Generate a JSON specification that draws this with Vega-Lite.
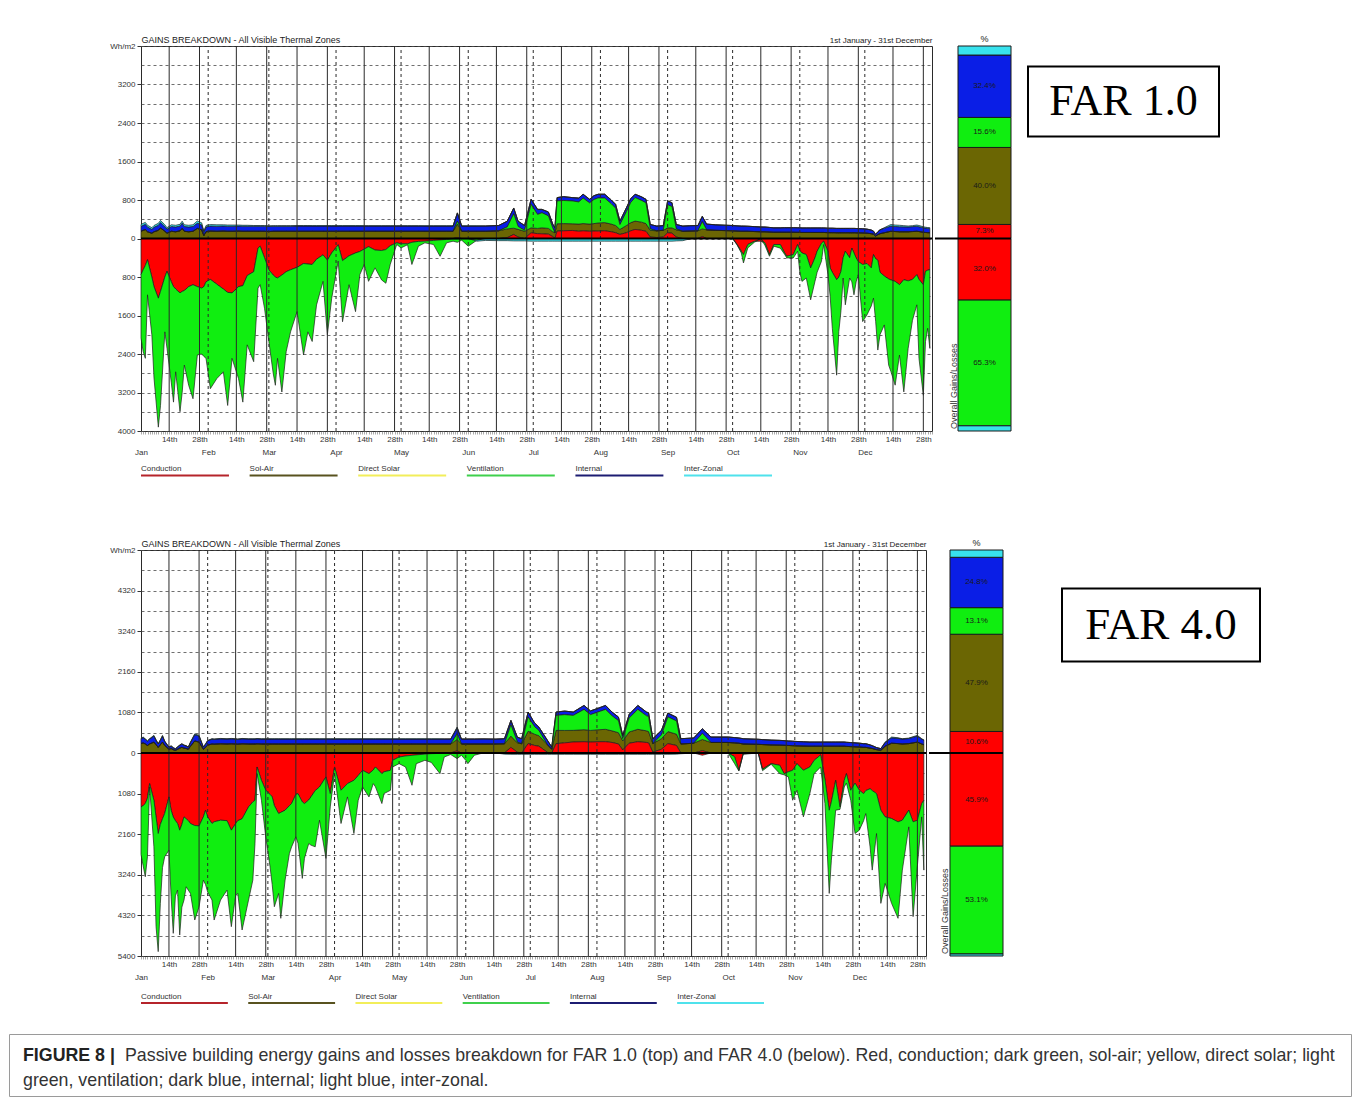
{
"$schema": "https://vega.github.io/schema/vega-lite/v6.json",
"padding": {"left": 8, "top": 34, "right": 0, "bottom": 0},
"background": "white",
"config": {
  "view": {"stroke": null},
  "font": "Liberation Sans",
  "axis": {"labelFont": "Liberation Sans", "titleFont": "Liberation Sans", "labelColor": "#333", "titleColor": "#222", "titleFontWeight": "normal"},
  "title": {"font": "Liberation Sans", "fontWeight": "normal", "color": "#222"},
  "text": {"font": "Liberation Sans"}
},
"datasets": {
  "series": [{"k":"cl","o":1},{"k":"vl","o":2},{"k":"zl","o":3},{"k":"cg","o":4},{"k":"sa","o":5},{"k":"vg","o":6},{"k":"ig","o":7},{"k":"iz","o":8}],
  "fortnight": [{"d":14},{"d":28},{"d":45},{"d":59},{"d":73},{"d":87},{"d":104},{"d":118},{"d":134},{"d":148},{"d":165},{"d":179},{"d":195},{"d":209},{"d":226},{"d":240},{"d":257},{"d":271},{"d":287},{"d":301},{"d":318},{"d":332},{"d":348},{"d":362}],
  "months": [{"d":32},{"d":60},{"d":91},{"d":121},{"d":152},{"d":182},{"d":213},{"d":244},{"d":274},{"d":305},{"d":335}],
  "legend": [{"n":"Conduction"},{"n":"Sol-Air"},{"n":"Direct Solar"},{"n":"Ventilation"},{"n":"Internal"},{"n":"Inter-Zonal"}],
  "pct1": [{"s":"cl","p":-32.0,"t":"32.0%"},{"s":"vl","p":-65.3,"t":"65.3%"},{"s":"zl","p":-2.7,"t":""},{"s":"cg","p":7.3,"t":"7.3%"},{"s":"sa","p":40.0,"t":"40.0%"},{"s":"vg","p":15.6,"t":"15.6%"},{"s":"ig","p":32.4,"t":"32.4%"},{"s":"iz","p":4.7,"t":""}],
  "pct2": [{"s":"cl","p":-45.9,"t":"45.9%"},{"s":"vl","p":-53.1,"t":"53.1%"},{"s":"zl","p":-1.0,"t":""},{"s":"cg","p":10.6,"t":"10.6%"},{"s":"sa","p":47.9,"t":"47.9%"},{"s":"vg","p":13.1,"t":"13.1%"},{"s":"ig","p":24.8,"t":"24.8%"},{"s":"iz","p":3.6,"t":""}],
  "far1": [
{"d":1,"cl":-750,"vl":-1320,"sa":150,"ig":100,"iz":40},
{"d":2,"cl":-650,"vl":-1700,"sa":170,"ig":105,"iz":40},
{"d":3,"cl":-560,"vl":-1930,"sa":185,"ig":110,"iz":40},
{"d":4,"cl":-440,"vl":-730,"sa":140,"ig":100,"iz":35},
{"d":6,"cl":-800,"vl":-1200,"sa":110,"ig":80,"iz":35},
{"d":7,"cl":-1000,"vl":-1900,"sa":140,"ig":95,"iz":35},
{"d":9,"cl":-1240,"vl":-2680,"sa":170,"ig":105,"iz":40},
{"d":10,"cl":-1100,"vl":-2370,"sa":220,"ig":115,"iz":40},
{"d":12,"cl":-800,"vl":-1140,"sa":150,"ig":100,"iz":35},
{"d":13,"cl":-680,"vl":-1600,"sa":110,"ig":85,"iz":30},
{"d":15,"cl":-900,"vl":-2100,"sa":150,"ig":100,"iz":35},
{"d":16,"cl":-1000,"vl":-2400,"sa":145,"ig":100,"iz":35},
{"d":17,"cl":-1050,"vl":-1720,"sa":140,"ig":100,"iz":35},
{"d":19,"cl":-1130,"vl":-2470,"sa":160,"ig":100,"iz":35},
{"d":20,"cl":-1100,"vl":-2100,"sa":210,"ig":110,"iz":40},
{"d":21,"cl":-1080,"vl":-1550,"sa":150,"ig":100,"iz":35},
{"d":23,"cl":-1000,"vl":-2050,"sa":140,"ig":100,"iz":35},
{"d":25,"cl":-960,"vl":-2370,"sa":150,"ig":100,"iz":35},
{"d":27,"cl":-1000,"vl":-1420,"sa":210,"ig":110,"iz":45},
{"d":29,"cl":-1030,"vl":-1370,"sa":180,"ig":105,"iz":40},
{"d":30,"cl":-1000,"vl":-1450,"sa":60,"ig":70,"iz":25},
{"d":31,"cl":-900,"vl":-1590,"sa":140,"ig":100,"iz":30},
{"d":33,"cl":-850,"vl":-2270,"sa":155,"ig":105,"iz":30},
{"d":36,"cl":-950,"vl":-1960,"sa":150,"ig":105,"iz":30},
{"d":39,"cl":-1050,"vl":-1720,"sa":155,"ig":105,"iz":25},
{"d":41,"cl":-1120,"vl":-2350,"sa":150,"ig":105,"iz":25},
{"d":43,"cl":-1130,"vl":-1360,"sa":150,"ig":105,"iz":25},
{"d":46,"cl":-1000,"vl":-1910,"sa":155,"ig":105,"iz":20},
{"d":48,"cl":-980,"vl":-2420,"sa":150,"ig":105,"iz":20},
{"d":50,"cl":-770,"vl":-1440,"sa":150,"ig":105,"iz":20},
{"d":53,"cl":-690,"vl":-1870,"sa":150,"ig":105,"iz":15},
{"d":55,"cl":-200,"vl":-830,"sa":150,"ig":105,"iz":15},
{"d":56,"cl":-160,"vl":-800,"sa":150,"ig":105,"iz":15},
{"d":58,"cl":-400,"vl":-1050,"sa":150,"ig":105,"iz":15},
{"d":60,"cl":-650,"vl":-1490,"sa":145,"ig":105,"iz":15},
{"d":62,"cl":-760,"vl":-2040,"sa":150,"ig":105,"iz":12},
{"d":63,"cl":-800,"vl":-2250,"sa":150,"ig":105,"iz":12},
{"d":64,"cl":-820,"vl":-1670,"sa":150,"ig":105,"iz":12},
{"d":66,"cl":-760,"vl":-2430,"sa":150,"ig":105,"iz":12},
{"d":68,"cl":-690,"vl":-1660,"sa":150,"ig":105,"iz":12},
{"d":70,"cl":-650,"vl":-1290,"sa":150,"ig":105,"iz":12},
{"d":73,"cl":-600,"vl":-920,"sa":150,"ig":108,"iz":12},
{"d":76,"cl":-520,"vl":-1900,"sa":150,"ig":108,"iz":12},
{"d":78,"cl":-530,"vl":-1410,"sa":150,"ig":108,"iz":12},
{"d":80,"cl":-540,"vl":-1600,"sa":150,"ig":108,"iz":10},
{"d":82,"cl":-430,"vl":-950,"sa":150,"ig":108,"iz":10},
{"d":85,"cl":-340,"vl":-550,"sa":150,"ig":108,"iz":10},
{"d":87,"cl":-450,"vl":-1550,"sa":150,"ig":108,"iz":10},
{"d":89,"cl":-300,"vl":-940,"sa":150,"ig":108,"iz":10},
{"d":92,"cl":-130,"vl":-340,"sa":150,"ig":108,"iz":10},
{"d":94,"cl":-460,"vl":-1270,"sa":150,"ig":108,"iz":10},
{"d":97,"cl":-360,"vl":-600,"sa":150,"ig":108,"iz":10},
{"d":100,"cl":-300,"vl":-1220,"sa":150,"ig":108,"iz":10},
{"d":102,"cl":-270,"vl":-480,"sa":150,"ig":108,"iz":10},
{"d":104,"cl":-220,"vl":-320,"sa":150,"ig":108,"iz":8},
{"d":106,"cl":-170,"vl":-720,"sa":150,"ig":108,"iz":8},
{"d":109,"cl":-240,"vl":-370,"sa":150,"ig":108,"iz":8},
{"d":112,"cl":-250,"vl":-610,"sa":150,"ig":108,"iz":8},
{"d":114,"cl":-230,"vl":-700,"sa":150,"ig":108,"iz":8},
{"d":116,"cl":-150,"vl":-390,"sa":150,"ig":108,"iz":8},
{"d":119,"cl":-90,"vl":-35,"sa":150,"ig":108,"iz":8},
{"d":121,"cl":-110,"vl":-85,"sa":150,"ig":108,"iz":8},
{"d":124,"cl":-110,"vl":-20,"sa":150,"ig":108,"iz":8},
{"d":126,"cl":-80,"vl":-460,"sa":150,"ig":108,"iz":8},
{"d":129,"cl":-60,"vl":-100,"sa":150,"ig":108,"iz":8},
{"d":132,"cl":-55,"vl":-35,"sa":150,"ig":108,"iz":6},
{"d":136,"cl":-40,"vl":-85,"sa":150,"ig":108,"iz":6},
{"d":139,"cl":-30,"vl":-340,"sa":150,"ig":108,"iz":6},
{"d":142,"cl":-20,"vl":-70,"sa":150,"ig":108,"iz":6},
{"d":145,"cl":-10,"vl":-46,"sa":150,"ig":108,"iz":6},
{"d":147,"cl":-10,"vl":-70,"cg":20,"sa":280,"vg":60,"ig":170,"iz":5},
{"d":149,"cl":-5,"vl":-30,"sa":150,"ig":108,"iz":5},
{"d":152,"cl":-5,"vl":-155,"sa":150,"ig":108,"iz":5},
{"d":156,"vl":-36,"zl":-20,"sa":150,"ig":108,"iz":5},
{"d":160,"zl":-40,"sa":150,"ig":110},
{"d":166,"zl":-45,"sa":160,"ig":110},
{"d":170,"zl":-45,"cg":20,"sa":180,"vg":40,"ig":120},
{"d":173,"zl":-50,"cg":84,"sa":130,"vg":300,"ig":120},
{"d":175,"zl":-50,"cg":30,"sa":160,"vg":60,"ig":110},
{"d":178,"zl":-50,"sa":150,"vg":20,"ig":100},
{"d":181,"zl":-55,"cg":118,"sa":104,"vg":488,"ig":105},
{"d":184,"zl":-55,"cg":100,"sa":110,"vg":290,"ig":105},
{"d":186,"zl":-55,"cg":97,"sa":125,"vg":313,"ig":70},
{"d":189,"zl":-55,"cg":90,"sa":120,"vg":260,"ig":80},
{"d":191,"zl":-55,"cg":40,"sa":100,"vg":80,"ig":80},
{"d":192,"zl":-55,"sa":118,"ig":104},
{"d":193,"zl":-55,"cg":153,"sa":153,"vg":474,"ig":70},
{"d":196,"zl":-55,"cg":160,"sa":150,"vg":480,"ig":80},
{"d":200,"zl":-55,"cg":167,"sa":139,"vg":474,"ig":70},
{"d":203,"zl":-55,"cg":150,"sa":150,"vg":460,"ig":80},
{"d":205,"zl":-55,"cg":160,"sa":150,"vg":530,"ig":80},
{"d":208,"zl":-55,"cg":150,"sa":150,"vg":440,"ig":75},
{"d":210,"zl":-55,"cg":155,"sa":155,"vg":500,"ig":80},
{"d":212,"zl":-55,"cg":153,"sa":170,"vg":520,"ig":77},
{"d":215,"zl":-55,"cg":160,"sa":170,"vg":510,"ig":80},
{"d":218,"zl":-55,"cg":140,"sa":160,"vg":420,"ig":80},
{"d":220,"zl":-55,"cg":120,"sa":150,"vg":360,"ig":80},
{"d":222,"zl":-55,"cg":84,"sa":104,"vg":100,"ig":74},
{"d":225,"zl":-55,"cg":120,"sa":150,"vg":290,"ig":80},
{"d":227,"zl":-55,"cg":160,"sa":170,"vg":420,"ig":80},
{"d":229,"zl":-55,"cg":188,"sa":174,"vg":488,"ig":70},
{"d":232,"zl":-55,"cg":170,"sa":170,"vg":450,"ig":75},
{"d":234,"zl":-55,"cg":150,"sa":160,"vg":430,"ig":75},
{"d":236,"zl":-55,"cg":30,"sa":140,"vg":30,"ig":92},
{"d":239,"zl":-55,"cg":20,"sa":140,"ig":98},
{"d":242,"zl":-55,"cg":30,"sa":140,"ig":98},
{"d":244,"zl":-55,"cg":118,"sa":104,"vg":478,"ig":80},
{"d":246,"zl":-55,"cg":110,"sa":110,"vg":445,"ig":80},
{"d":248,"zl":-50,"cg":30,"sa":150,"vg":20,"ig":92},
{"d":251,"zl":-45,"sa":150,"ig":108},
{"d":254,"zl":-10,"sa":155,"ig":110},
{"d":258,"sa":160,"ig":110},
{"d":260,"cg":40,"sa":160,"vg":150,"ig":110},
{"d":262,"sa":180,"ig":120},
{"d":266,"sa":170,"ig":115},
{"d":270,"sa":165,"ig":112},
{"d":274,"sa":160,"ig":110},
{"d":276,"cl":-120,"vl":-10,"sa":155,"ig":108},
{"d":278,"cl":-264,"vl":-36,"sa":150,"ig":108},
{"d":279,"cl":-334,"vl":-174,"sa":150,"ig":108},
{"d":281,"cl":-125,"vl":-70,"sa":150,"ig":105},
{"d":284,"cl":-60,"vl":-20,"sa":145,"ig":102},
{"d":287,"cl":-56,"sa":140,"ig":100},
{"d":289,"cl":-100,"vl":-50,"sa":140,"ig":98},
{"d":291,"cl":-334,"vl":-35,"sa":135,"ig":95},
{"d":293,"cl":-125,"vl":-35,"sa":130,"ig":92},
{"d":296,"cl":-125,"vl":-75,"sa":130,"ig":92},
{"d":298,"cl":-300,"vl":-30,"sa":130,"ig":95},
{"d":299,"cl":-369,"vl":-35,"sa":130,"ig":95},
{"d":302,"cl":-334,"vl":-70,"sa":130,"ig":95},
{"d":304,"cl":-125,"vl":-139,"sa":128,"ig":95},
{"d":305,"cl":-250,"vl":-450,"sa":128,"ig":95},
{"d":306,"cl":-300,"vl":-591,"sa":125,"ig":95},
{"d":308,"cl":-334,"vl":-487,"sa":125,"ig":95},
{"d":310,"cl":-612,"vl":-662,"sa":125,"ig":95},
{"d":312,"cl":-400,"vl":-491,"sa":125,"ig":95},
{"d":313,"cl":-264,"vl":-436,"sa":125,"ig":95},
{"d":315,"cl":-100,"vl":-373,"sa":125,"ig":95},
{"d":316,"cl":-56,"vl":-69,"sa":125,"ig":95},
{"d":318,"cl":-264,"vl":-488,"sa":122,"ig":92},
{"d":319,"cl":-612,"vl":-588,"sa":122,"ig":92},
{"d":320,"cl":-700,"vl":-1165,"sa":122,"ig":92},
{"d":322,"cl":-856,"vl":-1984,"sa":120,"ig":90},
{"d":323,"cl":-800,"vl":-1135,"sa":120,"ig":90},
{"d":324,"cl":-682,"vl":-818,"sa":120,"ig":90},
{"d":325,"cl":-400,"vl":-421,"sa":120,"ig":90},
{"d":326,"cl":-264,"vl":-1114,"sa":120,"ig":90},
{"d":328,"cl":-400,"vl":-421,"sa":120,"ig":90},
{"d":329,"cl":-200,"vl":-700,"sa":120,"ig":90},
{"d":330,"cl":-300,"vl":-870,"sa":120,"ig":90},
{"d":331,"cl":-404,"vl":-496,"sa":118,"ig":90},
{"d":332,"cl":-480,"vl":-272,"sa":118,"ig":88},
{"d":334,"cl":-540,"vl":-1186,"sa":115,"ig":88},
{"d":336,"cl":-520,"vl":-1067,"sa":110,"ig":85},
{"d":338,"cl":-612,"vl":-788,"sa":100,"ig":75},
{"d":339,"cl":-334,"vl":-905,"sa":90,"ig":63},
{"d":340,"cl":-420,"vl":-1300,"sa":50,"ig":34},
{"d":341,"cl":-450,"vl":-1868,"sa":80,"ig":60},
{"d":342,"cl":-700,"vl":-1300,"sa":100,"ig":80},
{"d":344,"cl":-780,"vl":-1016,"sa":120,"ig":95,"iz":10},
{"d":346,"cl":-840,"vl":-1791,"sa":140,"ig":105,"iz":25},
{"d":347,"cl":-860,"vl":-1900,"sa":150,"ig":110,"iz":30},
{"d":349,"cl":-891,"vl":-2157,"sa":145,"ig":105,"iz":30},
{"d":351,"cl":-960,"vl":-1462,"sa":140,"ig":105,"iz":30},
{"d":353,"cl":-856,"vl":-2332,"sa":140,"ig":102,"iz":25},
{"d":355,"cl":-880,"vl":-1403,"sa":140,"ig":100,"iz":20},
{"d":357,"cl":-850,"vl":-850,"sa":145,"ig":102,"iz":20},
{"d":359,"cl":-752,"vl":-626,"sa":150,"ig":105,"iz":25},
{"d":360,"cl":-850,"vl":-1642,"sa":145,"ig":100,"iz":25},
{"d":362,"cl":-960,"vl":-2297,"sa":130,"ig":95,"iz":20},
{"d":363,"cl":-682,"vl":-1462,"sa":125,"ig":92,"iz":18},
{"d":364,"cl":-660,"vl":-1205,"sa":122,"ig":90,"iz":15},
{"d":365,"cl":-647,"vl":-1636,"sa":120,"ig":90,"iz":15}
  ],
  "far2": [
{"d":1,"cl":-1434,"vl":-1266,"sa":250,"ig":130,"iz":10},
{"d":2,"cl":-1400,"vl":-1600,"sa":270,"ig":140,"iz":15},
{"d":3,"cl":-1345,"vl":-1947,"sa":240,"ig":125,"iz":12},
{"d":4,"cl":-1200,"vl":-1562,"sa":200,"ig":115,"iz":10},
{"d":5,"cl":-814,"vl":-89,"sa":240,"ig":130,"iz":10},
{"d":7,"cl":-1257,"vl":-1239,"sa":290,"ig":160,"iz":20},
{"d":8,"cl":-1700,"vl":-2920,"sa":220,"ig":120,"iz":10},
{"d":9,"cl":-2142,"vl":-3142,"sa":150,"ig":90,"iz":8},
{"d":10,"cl":-1900,"vl":-2100,"sa":220,"ig":120,"iz":10},
{"d":11,"cl":-1750,"vl":-1300,"sa":290,"ig":160,"iz":20},
{"d":12,"cl":-1611,"vl":-1151,"sa":200,"ig":110,"iz":10},
{"d":14,"cl":-1168,"vl":-1417,"sa":100,"ig":55,"iz":5},
{"d":15,"cl":-1522,"vl":-2301,"sa":120,"ig":65,"iz":5},
{"d":16,"cl":-1700,"vl":-3097,"sa":90,"ig":50,"iz":5},
{"d":17,"cl":-1800,"vl":-2000,"sa":70,"ig":40,"iz":5},
{"d":18,"cl":-1876,"vl":-1770,"sa":100,"ig":60,"iz":5},
{"d":19,"cl":-2053,"vl":-2788,"sa":130,"ig":75,"iz":8},
{"d":20,"cl":-1900,"vl":-2200,"sa":150,"ig":90,"iz":8},
{"d":21,"cl":-1699,"vl":-2213,"sa":130,"ig":75,"iz":8},
{"d":22,"cl":-1750,"vl":-1808,"sa":120,"ig":70,"iz":5},
{"d":23,"cl":-1800,"vl":-1850,"sa":100,"ig":55,"iz":5},
{"d":24,"cl":-1876,"vl":-1859,"sa":180,"ig":100,"iz":10},
{"d":26,"cl":-1930,"vl":-2513,"sa":320,"ig":170,"iz":20},
{"d":28,"cl":-1940,"vl":-2149,"sa":290,"ig":160,"iz":20},
{"d":30,"cl":-1700,"vl":-1681,"sa":100,"ig":55,"iz":5},
{"d":31,"cl":-1522,"vl":-1978,"sa":150,"ig":85,"iz":8},
{"d":32,"cl":-1700,"vl":-2000,"sa":210,"ig":115,"iz":10},
{"d":34,"cl":-1876,"vl":-2036,"sa":240,"ig":130,"iz":10},
{"d":35,"cl":-1830,"vl":-2613,"sa":235,"ig":128,"iz":10},
{"d":38,"cl":-1788,"vl":-2124,"sa":245,"ig":132,"iz":10},
{"d":41,"cl":-1800,"vl":-1846,"sa":240,"ig":130,"iz":10},
{"d":43,"cl":-2053,"vl":-2567,"sa":245,"ig":132,"iz":10},
{"d":45,"cl":-1876,"vl":-1924,"sa":240,"ig":130,"iz":10},
{"d":46,"cl":-1800,"vl":-1935,"sa":235,"ig":128,"iz":10},
{"d":48,"cl":-1750,"vl":-2958,"sa":245,"ig":132,"iz":10},
{"d":51,"cl":-1434,"vl":-2478,"sa":240,"ig":130,"iz":8},
{"d":53,"cl":-1300,"vl":-2081,"sa":240,"ig":130,"iz":8},
{"d":54,"cl":-1257,"vl":-1150,"sa":240,"ig":130,"iz":8},
{"d":55,"cl":-372,"vl":-177,"sa":245,"ig":132,"iz":8},
{"d":57,"cl":-726,"vl":-531,"sa":240,"ig":130,"iz":8},
{"d":59,"cl":-991,"vl":-1239,"sa":240,"ig":130,"iz":8},
{"d":61,"cl":-1100,"vl":-1927,"sa":240,"ig":130,"iz":8},
{"d":62,"cl":-1168,"vl":-2332,"sa":240,"ig":130,"iz":8},
{"d":63,"cl":-1400,"vl":-2689,"sa":240,"ig":130,"iz":8},
{"d":65,"cl":-1611,"vl":-2124,"sa":240,"ig":130,"iz":8},
{"d":66,"cl":-1580,"vl":-2818,"sa":240,"ig":130,"iz":8},
{"d":68,"cl":-1522,"vl":-1859,"sa":240,"ig":130,"iz":8},
{"d":70,"cl":-1400,"vl":-1273,"sa":240,"ig":130,"iz":8},
{"d":71,"cl":-1345,"vl":-1155,"sa":240,"ig":130,"iz":8},
{"d":73,"cl":-1100,"vl":-1130,"sa":240,"ig":130,"iz":8},
{"d":74,"cl":-1080,"vl":-1320,"sa":240,"ig":130,"iz":8},
{"d":76,"cl":-1300,"vl":-2036,"sa":240,"ig":130,"iz":8},
{"d":77,"cl":-1345,"vl":-1455,"sa":240,"ig":130,"iz":8},
{"d":79,"cl":-1250,"vl":-1157,"sa":240,"ig":130,"iz":8},
{"d":80,"cl":-1168,"vl":-1282,"sa":240,"ig":130,"iz":8},
{"d":82,"cl":-1000,"vl":-1496,"sa":240,"ig":130,"iz":8},
{"d":84,"cl":-903,"vl":-885,"sa":240,"ig":130,"iz":8},
{"d":87,"cl":-637,"vl":-2168,"sa":240,"ig":130,"iz":8},
{"d":89,"cl":-1080,"vl":-354,"sa":240,"ig":130,"iz":8},
{"d":91,"cl":-372,"vl":-177,"sa":240,"ig":130,"iz":8},
{"d":94,"cl":-991,"vl":-885,"sa":240,"ig":130,"iz":8},
{"d":97,"cl":-814,"vl":-354,"sa":240,"ig":130,"iz":8},
{"d":100,"cl":-726,"vl":-1416,"sa":240,"ig":130,"iz":8},
{"d":102,"cl":-600,"vl":-657,"sa":240,"ig":130,"iz":8},
{"d":104,"cl":-460,"vl":-443,"sa":240,"ig":130,"iz":8},
{"d":107,"cl":-549,"vl":-619,"sa":240,"ig":130,"iz":8},
{"d":109,"cl":-450,"vl":-364,"sa":240,"ig":130,"iz":8},
{"d":110,"cl":-372,"vl":-528,"sa":240,"ig":130,"iz":8},
{"d":113,"cl":-549,"vl":-796,"sa":240,"ig":130,"iz":8},
{"d":114,"cl":-500,"vl":-580,"sa":240,"ig":130,"iz":8},
{"d":117,"cl":-460,"vl":-531,"sa":240,"ig":130,"iz":6},
{"d":118,"cl":-195,"vl":-177,"sa":240,"ig":130,"iz":6},
{"d":121,"cl":-106,"vl":-177,"sa":240,"ig":130,"iz":6},
{"d":124,"cl":-80,"vl":-292,"sa":240,"ig":130,"iz":6},
{"d":127,"cl":-62,"vl":-797,"sa":240,"ig":130,"iz":6},
{"d":129,"cl":-50,"vl":-233,"sa":240,"ig":130,"iz":6},
{"d":133,"cl":-30,"vl":-165,"sa":240,"ig":130,"iz":6},
{"d":136,"cl":-18,"vl":-232,"sa":240,"ig":130,"iz":6},
{"d":140,"cl":-10,"vl":-539,"sa":240,"ig":130,"iz":6},
{"d":142,"cl":-5,"vl":-101,"sa":240,"ig":130,"iz":5},
{"d":145,"vl":-40,"sa":240,"ig":130,"iz":5},
{"d":148,"vl":-150,"cg":60,"sa":300,"vg":150,"ig":160,"iz":20},
{"d":150,"vl":-60,"sa":240,"ig":130,"iz":5},
{"d":152,"vl":-195,"sa":240,"ig":130,"iz":5},
{"d":153,"vl":-283,"sa":240,"ig":130,"iz":5},
{"d":156,"vl":-60,"sa":240,"ig":130,"iz":5},
{"d":160,"sa":240,"ig":135},
{"d":166,"sa":240,"ig":130},
{"d":170,"zl":-30,"sa":245,"ig":135},
{"d":173,"zl":-35,"cg":150,"sa":300,"vg":300,"ig":117},
{"d":176,"zl":-35,"cg":20,"sa":250,"vg":20,"ig":130},
{"d":178,"zl":-35,"sa":245,"ig":135},
{"d":181,"zl":-35,"cg":250,"sa":330,"vg":380,"ig":130},
{"d":184,"zl":-35,"cg":200,"sa":300,"vg":200,"ig":100},
{"d":186,"zl":-35,"cg":180,"sa":280,"vg":140,"ig":90},
{"d":190,"zl":-35,"cg":16,"sa":200,"ig":120},
{"d":192,"zl":-35,"sa":100,"ig":59},
{"d":194,"zl":-35,"cg":248,"sa":354,"vg":398,"ig":89},
{"d":198,"zl":-35,"cg":270,"sa":330,"vg":420,"ig":95},
{"d":202,"zl":-35,"cg":292,"sa":310,"vg":398,"ig":89},
{"d":207,"zl":-35,"cg":300,"sa":320,"vg":540,"ig":105},
{"d":210,"zl":-35,"cg":290,"sa":310,"vg":420,"ig":100},
{"d":214,"zl":-35,"cg":300,"sa":320,"vg":480,"ig":100},
{"d":217,"zl":-35,"cg":300,"sa":330,"vg":530,"ig":105},
{"d":220,"zl":-35,"cg":280,"sa":310,"vg":400,"ig":100},
{"d":223,"zl":-35,"cg":240,"sa":300,"vg":320,"ig":96},
{"d":225,"zl":-35,"cg":80,"sa":240,"vg":60,"ig":89},
{"d":228,"zl":-35,"cg":260,"sa":300,"vg":370,"ig":100},
{"d":232,"zl":-35,"cg":300,"sa":330,"vg":530,"ig":105},
{"d":236,"zl":-35,"cg":280,"sa":310,"vg":400,"ig":100},
{"d":237,"zl":-35,"cg":270,"sa":300,"vg":400,"ig":100},
{"d":239,"zl":-35,"cg":20,"sa":230,"ig":130},
{"d":243,"zl":-35,"cg":100,"sa":280,"vg":100,"ig":122},
{"d":246,"zl":-35,"cg":250,"sa":320,"vg":390,"ig":102},
{"d":250,"zl":-30,"cg":200,"sa":300,"vg":350,"ig":100},
{"d":252,"zl":-20,"sa":240,"ig":140},
{"d":258,"sa":260,"ig":140},
{"d":262,"cl":-60,"cg":60,"sa":300,"vg":160,"ig":126},
{"d":266,"sa":280,"ig":145},
{"d":274,"sa":280,"ig":145},
{"d":277,"cl":-100,"vl":-183,"sa":270,"ig":140},
{"d":279,"cl":-460,"vl":-20,"sa":260,"ig":140},
{"d":281,"cl":-20,"vl":-10,"sa":240,"ig":140},
{"d":288,"cl":-10,"sa":230,"ig":135},
{"d":290,"cl":-430,"vl":-40,"sa":225,"ig":132},
{"d":294,"cl":-283,"vl":-17,"sa":215,"ig":128},
{"d":298,"cl":-327,"vl":-222,"sa":210,"ig":126},
{"d":300,"cl":-549,"vl":-31,"sa":205,"ig":124},
{"d":302,"cl":-500,"vl":-137,"sa":200,"ig":120},
{"d":304,"cl":-460,"vl":-797,"sa":195,"ig":118},
{"d":306,"cl":-283,"vl":-708,"sa":190,"ig":116},
{"d":309,"cl":-460,"vl":-1239,"sa":185,"ig":114},
{"d":312,"cl":-372,"vl":-708,"sa":180,"ig":112},
{"d":314,"cl":-195,"vl":-354,"sa":180,"ig":112},
{"d":317,"cl":-50,"vl":-322,"sa":180,"ig":112},
{"d":319,"cl":-700,"vl":-645,"sa":180,"ig":112},
{"d":321,"cl":-1522,"vl":-2213,"sa":180,"ig":112},
{"d":322,"cl":-1300,"vl":-1550,"sa":180,"ig":112},
{"d":324,"cl":-726,"vl":-796,"sa":180,"ig":112},
{"d":326,"cl":-1434,"vl":-66,"sa":180,"ig":112},
{"d":328,"cl":-726,"vl":-177,"sa":180,"ig":112},
{"d":329,"cl":-549,"vl":-251,"sa":175,"ig":110},
{"d":331,"cl":-991,"vl":-266,"sa":170,"ig":108},
{"d":333,"cl":-800,"vl":-1342,"sa":165,"ig":105},
{"d":335,"cl":-991,"vl":-1062,"sa":160,"ig":102},
{"d":337,"cl":-1080,"vl":-720,"sa":150,"ig":98},
{"d":338,"cl":-1000,"vl":-611,"sa":150,"ig":98},
{"d":340,"cl":-950,"vl":-1550,"sa":130,"ig":85},
{"d":341,"cl":-1000,"vl":-2115,"sa":120,"ig":75},
{"d":343,"cl":-1080,"vl":-1062,"sa":90,"ig":55},
{"d":345,"cl":-1522,"vl":-2478,"sa":70,"ig":45},
{"d":347,"cl":-1699,"vl":-1770,"sa":180,"ig":100,"iz":10},
{"d":350,"cl":-1743,"vl":-2257,"sa":260,"ig":145,"iz":20},
{"d":353,"cl":-1832,"vl":-2566,"sa":250,"ig":140,"iz":15},
{"d":355,"cl":-1788,"vl":-1327,"sa":240,"ig":130,"iz":10},
{"d":358,"cl":-1522,"vl":-443,"sa":250,"ig":135,"iz":12},
{"d":360,"cl":-1832,"vl":-2522,"sa":270,"ig":150,"iz":15},
{"d":362,"cl":-1788,"vl":-1212,"sa":290,"ig":160,"iz":19},
{"d":364,"cl":-1345,"vl":-355,"sa":240,"ig":130,"iz":10},
{"d":365,"cl":-1257,"vl":-1858,"sa":220,"ig":120,"iz":10}
  ]
},
"vconcat": [
 {
  "hconcat": [
   {"width": 100, "height": 1, "data": {"values": [{}]}, "mark": {"type": "text"}, "encoding": {"text": {"value": ""}}},
   {
    "vconcat": [
     {
      "hconcat": [
       {
        "vconcat": [
         {
          "width": 791, "height": 385,
          "view": {"stroke": "#2a2a2a", "strokeWidth": 1},
          "resolve": {"axis": {"x": "independent", "y": "independent"}},
          "layer": [
           {
            "data": {"name": "far1"},
            "transform": [
              {"fold": ["cl","vl","zl","cg","sa","vg","ig","iz"], "as": ["k","v"]},
              {"filter": {"field": "v", "valid": true}},
              {"lookup": "k", "from": {"data": {"name": "series"}, "key": "k", "fields": ["o"]}}
            ],
            "mark": {"type": "area", "stroke": "#1e1e1e", "strokeWidth": 0.7},
            "encoding": {
              "x": {"field": "d", "type": "quantitative", "scale": {"domain": [1,366], "nice": false, "zero": false},
                    "axis": {"orient": "bottom", "tickCount": 365, "labelOverlap": false, "labelFlush": false, "labelBound": false, "grid": false, "domain": false, "tickSize": 3, "tickColor": "#555", "tickWidth": 0.5, "labelFontSize": 8, "labelPadding": 1, "labelLineHeight": 13, "labelBaseline": "top", "labelAngle": 0, "title": null,
                             "labelExpr": "indexof([14,45,73,104,134,165,195,226,257,287,318,348], datum.value) >= 0 ? '14th' : indexof([28,59,87,118,148,179,209,240,271,301,332,362], datum.value) >= 0 ? '28th' : indexof([1,32,60,91,121,152,182,213,244,274,305,335], datum.value) >= 0 ? ['', ['Jan','Feb','Mar','Apr','May','Jun','Jul','Aug','Sep','Oct','Nov','Dec'][indexof([1,32,60,91,121,152,182,213,244,274,305,335], datum.value)]] : ''"}},
              "y": {"field": "v", "type": "quantitative", "stack": "zero", "scale": {"domain": [-4000,4000], "nice": false, "zero": false},
                    "axis": {"orient": "left", "values": [-4000,-3600,-3200,-2800,-2400,-2000,-1600,-1200,-800,-400,0,400,800,1200,1600,2000,2400,2800,3200,3600,4000],
                             "labelExpr": "datum.value >= 4000 ? 'Wh/m2' : (datum.value % 800 == 0 ? format(abs(datum.value), 'd') : '')",
                             "grid": true, "gridDash": [3,3], "gridColor": "#4a4a4a", "gridWidth": 0.8, "domain": false, "tickSize": 4, "tickColor": "#333",
                             "tickOpacity": {"condition": {"test": "datum.value % 800 == 0", "value": 1}, "value": 0},
                             "labelFontSize": 8, "labelPadding": 2, "title": null}},
              "color": {"field": "k", "type": "nominal", "scale": {"domain": ["cl","vl","zl","cg","sa","vg","ig","iz"], "range": ["#ff0000","#10ee10","#38e2ee","#ff0000","#6b6603","#10ee10","#0a1ee6","#38e2ee"]}, "legend": null},
              "detail": {"field": "o", "type": "quantitative"},
              "order": {"field": "o", "type": "quantitative"}
            }
           },
           {
            "data": {"name": "fortnight"},
            "mark": {"type": "rule", "color": "#2a2a2a", "strokeWidth": 1},
            "encoding": {"x": {"field": "d", "type": "quantitative", "scale": {"domain": [1,366], "nice": false, "zero": false},
                         "axis": {"orient": "top", "title": "GAINS BREAKDOWN - All Visible Thermal Zones", "titleAnchor": "start", "titleAlign": "left", "titleBaseline": "bottom", "titleFontSize": 9, "titlePadding": 2, "labels": false, "ticks": false, "domain": false, "grid": false}},
                         "y": {"datum": -4000, "type": "quantitative", "axis": null}, "y2": {"datum": 4000}}
           },
           {
            "data": {"name": "months"},
            "mark": {"type": "rule", "color": "#2a2a2a", "strokeWidth": 1, "strokeDash": [3,3]},
            "encoding": {"x": {"field": "d", "type": "quantitative", "scale": {"domain": [1,366], "nice": false, "zero": false},
                         "axis": {"orient": "top", "title": "1st January - 31st December", "titleAnchor": "end", "titleAlign": "right", "titleBaseline": "bottom", "titleFontSize": 8, "titlePadding": 2, "labels": false, "ticks": false, "domain": false, "grid": false}},
                         "y": {"datum": -4000, "type": "quantitative", "axis": null}, "y2": {"datum": 4000}}
           },
           {
            "data": {"values": [{}]},
            "mark": {"type": "rule", "color": "black", "strokeWidth": 2},
            "encoding": {"y": {"datum": 0, "type": "quantitative", "axis": null}}
           }
          ]
         },
         {
          "width": 631, "height": 2,
          "data": {"name": "legend"},
          "mark": {"type": "bar"},
          "encoding": {
            "x": {"field": "n", "type": "nominal", "sort": null, "scale": {"paddingInner": 0.19, "paddingOuter": 0},
                  "axis": {"orient": "top", "title": null, "labelAlign": "left", "labelOffset": -44, "labelAngle": 0, "labelBaseline": "bottom", "ticks": false, "tickSize": 0, "domain": false, "labelPadding": 2, "labelFontSize": 8, "labelColor": "#333"}},
            "color": {"field": "n", "type": "nominal", "sort": null, "scale": {"domain": ["Conduction","Sol-Air","Direct Solar","Ventilation","Internal","Inter-Zonal"], "range": ["#b5242b","#58521f","#f2ee5a","#3fd04c","#1c1c72","#4fe2ec"]}, "legend": null}
          }
         }
        ],
        "spacing": 43.5,
        "bounds": "flush",
        "resolve": {"scale": {"color": "independent"}}
       },
       {
        "hconcat": [
         {
          "width": 76, "height": 385,
          "title": {"text": "%", "fontSize": 9, "offset": 2, "anchor": "middle", "dx": 11.5},
          "layer": [
           {
            "data": {"name": "pct1"},
            "transform": [{"lookup": "s", "from": {"data": {"name": "series"}, "key": "k", "fields": ["o"]}}],
            "mark": {"type": "bar", "stroke": "#1a1a1a", "strokeWidth": 1},
            "encoding": {
              "x": {"datum": "%", "type": "nominal", "scale": {"type": "band", "paddingInner": 0, "paddingOuter": 0.217, "align": 1}, "axis": null},
              "y": {"field": "p", "type": "quantitative", "stack": "zero", "scale": {"domain": [-100,100], "nice": false},
                    "axis": {"orient": "left", "values": [-90,-80,-70,-60,-50,-40,-30,-20,-10,0,10,20,30,40,50,60,70,80,90], "grid": true, "gridDash": [3,3], "gridColor": "#4a4a4a", "gridWidth": 0.8, "labels": false, "ticks": false, "domain": false, "title": null}},
              "color": {"field": "s", "type": "nominal", "scale": {"domain": ["cl","vl","zl","cg","sa","vg","ig","iz"], "range": ["#ff0000","#10ee10","#38e2ee","#ff0000","#6b6603","#10ee10","#0a1ee6","#38e2ee"]}, "legend": null},
              "order": {"field": "o", "type": "quantitative"}
            }
           },
           {
            "data": {"name": "pct1"},
            "transform": [
              {"lookup": "s", "from": {"data": {"name": "series"}, "key": "k", "fields": ["o"]}},
              {"stack": "p", "groupby": [], "sort": [{"field": "o", "order": "ascending"}], "as": ["p0", "p1"]},
              {"fold": ["p0", "p1"], "as": ["e", "pv"]},
              {"aggregate": [{"op": "mean", "field": "pv", "as": "mid"}], "groupby": ["s", "t"]},
              {"filter": "datum.t != ''"}
            ],
            "mark": {"type": "text", "fontSize": 8, "color": "#1a1a1a"},
            "encoding": {
              "x": {"datum": "%", "type": "nominal", "axis": null},
              "y": {"field": "mid", "type": "quantitative", "axis": null},
              "text": {"field": "t"}
            }
           },
           {
            "data": {"values": [{}]},
            "mark": {"type": "rule", "color": "black", "strokeWidth": 2},
            "encoding": {"y": {"datum": 0, "type": "quantitative", "axis": null}}
           },
           {
            "data": {"values": [{}]},
            "mark": {"type": "text", "angle": 270, "align": "left", "baseline": "middle", "fontSize": 9, "color": "#333", "dx": 2, "dy": -31},
            "encoding": {
              "x": {"datum": "%", "type": "nominal", "axis": null},
              "y": {"datum": -100, "type": "quantitative", "axis": null},
              "text": {"value": "Overall Gains/Losses"}
            }
           }
          ]
         },
         {
          "vconcat": [
           {"width": 191, "height": 8, "data": {"values": [{}]}, "mark": {"type": "text"}, "encoding": {"text": {"value": ""}}},
           {
            "width": 191, "height": 70,
            "data": {"values": [{}]},
            "view": {"stroke": "black", "strokeWidth": 2},
            "mark": {"type": "text", "font": "Liberation Serif", "fontSize": 44, "color": "black", "align": "center", "baseline": "middle"},
            "encoding": {"text": {"value": "FAR 1.0"}}
           }
          ],
          "spacing": 10.5
         }
        ],
        "spacing": 15,
        "resolve": {"scale": {"color": "independent"}}
       }
      ],
      "spacing": 0,
      "resolve": {"scale": {"color": "independent"}}
     },
     {
      "hconcat": [
       {
        "vconcat": [
         {
          "width": 785, "height": 406,
          "view": {"stroke": "#2a2a2a", "strokeWidth": 1},
          "resolve": {"axis": {"x": "independent", "y": "independent"}},
          "layer": [
           {
            "data": {"name": "far2"},
            "transform": [
              {"fold": ["cl","vl","zl","cg","sa","vg","ig","iz"], "as": ["k","v"]},
              {"filter": {"field": "v", "valid": true}},
              {"lookup": "k", "from": {"data": {"name": "series"}, "key": "k", "fields": ["o"]}}
            ],
            "mark": {"type": "area", "stroke": "#1e1e1e", "strokeWidth": 0.7},
            "encoding": {
              "x": {"field": "d", "type": "quantitative", "scale": {"domain": [1,366], "nice": false, "zero": false},
                    "axis": {"orient": "bottom", "tickCount": 365, "labelOverlap": false, "labelFlush": false, "labelBound": false, "grid": false, "domain": false, "tickSize": 3, "tickColor": "#555", "tickWidth": 0.5, "labelFontSize": 8, "labelPadding": 1, "labelLineHeight": 13, "labelBaseline": "top", "labelAngle": 0, "title": null,
                             "labelExpr": "indexof([14,45,73,104,134,165,195,226,257,287,318,348], datum.value) >= 0 ? '14th' : indexof([28,59,87,118,148,179,209,240,271,301,332,362], datum.value) >= 0 ? '28th' : indexof([1,32,60,91,121,152,182,213,244,274,305,335], datum.value) >= 0 ? ['', ['Jan','Feb','Mar','Apr','May','Jun','Jul','Aug','Sep','Oct','Nov','Dec'][indexof([1,32,60,91,121,152,182,213,244,274,305,335], datum.value)]] : ''"}},
              "y": {"field": "v", "type": "quantitative", "stack": "zero", "scale": {"domain": [-5400,5400], "nice": false, "zero": false},
                    "axis": {"orient": "left", "values": [-5400,-4860,-4320,-3780,-3240,-2700,-2160,-1620,-1080,-540,0,540,1080,1620,2160,2700,3240,3780,4320,4860,5400],
                             "labelExpr": "datum.value >= 5400 ? 'Wh/m2' : (datum.value % 1080 == 0 ? format(abs(datum.value), 'd') : '')",
                             "grid": true, "gridDash": [3,3], "gridColor": "#4a4a4a", "gridWidth": 0.8, "domain": false, "tickSize": 4, "tickColor": "#333",
                             "tickOpacity": {"condition": {"test": "datum.value % 1080 == 0", "value": 1}, "value": 0},
                             "labelFontSize": 8, "labelPadding": 2, "title": null}},
              "color": {"field": "k", "type": "nominal", "scale": {"domain": ["cl","vl","zl","cg","sa","vg","ig","iz"], "range": ["#ff0000","#10ee10","#38e2ee","#ff0000","#6b6603","#10ee10","#0a1ee6","#38e2ee"]}, "legend": null},
              "detail": {"field": "o", "type": "quantitative"},
              "order": {"field": "o", "type": "quantitative"}
            }
           },
           {
            "data": {"name": "fortnight"},
            "mark": {"type": "rule", "color": "#2a2a2a", "strokeWidth": 1},
            "encoding": {"x": {"field": "d", "type": "quantitative", "scale": {"domain": [1,366], "nice": false, "zero": false},
                         "axis": {"orient": "top", "title": "GAINS BREAKDOWN - All Visible Thermal Zones", "titleAnchor": "start", "titleAlign": "left", "titleBaseline": "bottom", "titleFontSize": 9, "titlePadding": 2, "labels": false, "ticks": false, "domain": false, "grid": false}},
                         "y": {"datum": -5400, "type": "quantitative", "axis": null}, "y2": {"datum": 5400}}
           },
           {
            "data": {"name": "months"},
            "mark": {"type": "rule", "color": "#2a2a2a", "strokeWidth": 1, "strokeDash": [3,3]},
            "encoding": {"x": {"field": "d", "type": "quantitative", "scale": {"domain": [1,366], "nice": false, "zero": false},
                         "axis": {"orient": "top", "title": "1st January - 31st December", "titleAnchor": "end", "titleAlign": "right", "titleBaseline": "bottom", "titleFontSize": 8, "titlePadding": 2, "labels": false, "ticks": false, "domain": false, "grid": false}},
                         "y": {"datum": -5400, "type": "quantitative", "axis": null}, "y2": {"datum": 5400}}
           },
           {
            "data": {"values": [{}]},
            "mark": {"type": "rule", "color": "black", "strokeWidth": 2},
            "encoding": {"y": {"datum": 0, "type": "quantitative", "axis": null}}
           }
          ]
         },
         {
          "width": 623, "height": 2,
          "data": {"name": "legend"},
          "mark": {"type": "bar"},
          "encoding": {
            "x": {"field": "n", "type": "nominal", "sort": null, "scale": {"paddingInner": 0.19, "paddingOuter": 0},
                  "axis": {"orient": "top", "title": null, "labelAlign": "left", "labelOffset": -43.4, "labelAngle": 0, "labelBaseline": "bottom", "ticks": false, "tickSize": 0, "domain": false, "labelPadding": 2, "labelFontSize": 8, "labelColor": "#333"}},
            "color": {"field": "n", "type": "nominal", "sort": null, "scale": {"domain": ["Conduction","Sol-Air","Direct Solar","Ventilation","Internal","Inter-Zonal"], "range": ["#b5242b","#58521f","#f2ee5a","#3fd04c","#1c1c72","#4fe2ec"]}, "legend": null}
          }
         }
        ],
        "spacing": 46,
        "bounds": "flush",
        "resolve": {"scale": {"color": "independent"}}
       },
       {
        "hconcat": [
         {
          "width": 74, "height": 406,
          "title": {"text": "%", "fontSize": 9, "offset": 2, "anchor": "middle", "dx": 10.5},
          "layer": [
           {
            "data": {"name": "pct2"},
            "transform": [{"lookup": "s", "from": {"data": {"name": "series"}, "key": "k", "fields": ["o"]}}],
            "mark": {"type": "bar", "stroke": "#1a1a1a", "strokeWidth": 1},
            "encoding": {
              "x": {"datum": "%", "type": "nominal", "scale": {"type": "band", "paddingInner": 0, "paddingOuter": 0.198, "align": 1}, "axis": null},
              "y": {"field": "p", "type": "quantitative", "stack": "zero", "scale": {"domain": [-100,100], "nice": false},
                    "axis": {"orient": "left", "values": [-90,-80,-70,-60,-50,-40,-30,-20,-10,0,10,20,30,40,50,60,70,80,90], "grid": true, "gridDash": [3,3], "gridColor": "#4a4a4a", "gridWidth": 0.8, "labels": false, "ticks": false, "domain": false, "title": null}},
              "color": {"field": "s", "type": "nominal", "scale": {"domain": ["cl","vl","zl","cg","sa","vg","ig","iz"], "range": ["#ff0000","#10ee10","#38e2ee","#ff0000","#6b6603","#10ee10","#0a1ee6","#38e2ee"]}, "legend": null},
              "order": {"field": "o", "type": "quantitative"}
            }
           },
           {
            "data": {"name": "pct2"},
            "transform": [
              {"lookup": "s", "from": {"data": {"name": "series"}, "key": "k", "fields": ["o"]}},
              {"stack": "p", "groupby": [], "sort": [{"field": "o", "order": "ascending"}], "as": ["p0", "p1"]},
              {"fold": ["p0", "p1"], "as": ["e", "pv"]},
              {"aggregate": [{"op": "mean", "field": "pv", "as": "mid"}], "groupby": ["s", "t"]},
              {"filter": "datum.t != ''"}
            ],
            "mark": {"type": "text", "fontSize": 8, "color": "#1a1a1a"},
            "encoding": {
              "x": {"datum": "%", "type": "nominal", "axis": null},
              "y": {"field": "mid", "type": "quantitative", "axis": null},
              "text": {"field": "t"}
            }
           },
           {
            "data": {"values": [{}]},
            "mark": {"type": "rule", "color": "black", "strokeWidth": 2},
            "encoding": {"y": {"datum": 0, "type": "quantitative", "axis": null}}
           },
           {
            "data": {"values": [{}]},
            "mark": {"type": "text", "angle": 270, "align": "left", "baseline": "middle", "fontSize": 9, "color": "#333", "dx": 2, "dy": -31},
            "encoding": {
              "x": {"datum": "%", "type": "nominal", "axis": null},
              "y": {"datum": -100, "type": "quantitative", "axis": null},
              "text": {"value": "Overall Gains/Losses"}
            }
           }
          ]
         },
         {
          "vconcat": [
           {"width": 198, "height": 27, "data": {"values": [{}]}, "mark": {"type": "text"}, "encoding": {"text": {"value": ""}}},
           {
            "width": 198, "height": 73,
            "data": {"values": [{}]},
            "view": {"stroke": "black", "strokeWidth": 2},
            "mark": {"type": "text", "font": "Liberation Serif", "fontSize": 45, "color": "black", "align": "center", "baseline": "middle"},
            "encoding": {"text": {"value": "FAR 4.0"}}
           }
          ],
          "spacing": 10.5
         }
        ],
        "spacing": 57,
        "resolve": {"scale": {"color": "independent"}}
       }
      ],
      "spacing": 0,
      "resolve": {"scale": {"color": "independent"}}
     }
    ],
    "spacing": 61,
    "resolve": {"scale": {"color": "independent"}}
   }
  ],
  "spacing": 0,
  "resolve": {"scale": {"color": "independent"}}
 },
 {
  "width": 1342, "height": 62,
  "view": {"stroke": "#9a9a9a", "strokeWidth": 1},
  "data": {"values": [{}]},
  "layer": [
   {"mark": {"type": "text", "font": "Liberation Sans", "fontSize": 17.8, "fontWeight": "bold", "align": "left", "baseline": "middle", "dx": -657, "dy": -9, "color": "#222"},
    "encoding": {"text": {"value": "FIGURE 8 |"}}},
   {"mark": {"type": "text", "font": "Liberation Sans", "fontSize": 17.8, "align": "left", "baseline": "middle", "dx": -555, "dy": -9, "color": "#333"},
    "encoding": {"text": {"value": "Passive building energy gains and losses breakdown for FAR 1.0 (top) and FAR 4.0 (below). Red, conduction; dark green, sol-air; yellow, direct solar; light"}}},
   {"mark": {"type": "text", "font": "Liberation Sans", "fontSize": 17.8, "align": "left", "baseline": "middle", "dx": -657, "dy": 16, "color": "#333"},
    "encoding": {"text": {"value": "green, ventilation; dark blue, internal; light blue, inter-zonal."}}}
  ]
 }
],
"spacing": 29,
"resolve": {"scale": {"color": "independent"}}
}
